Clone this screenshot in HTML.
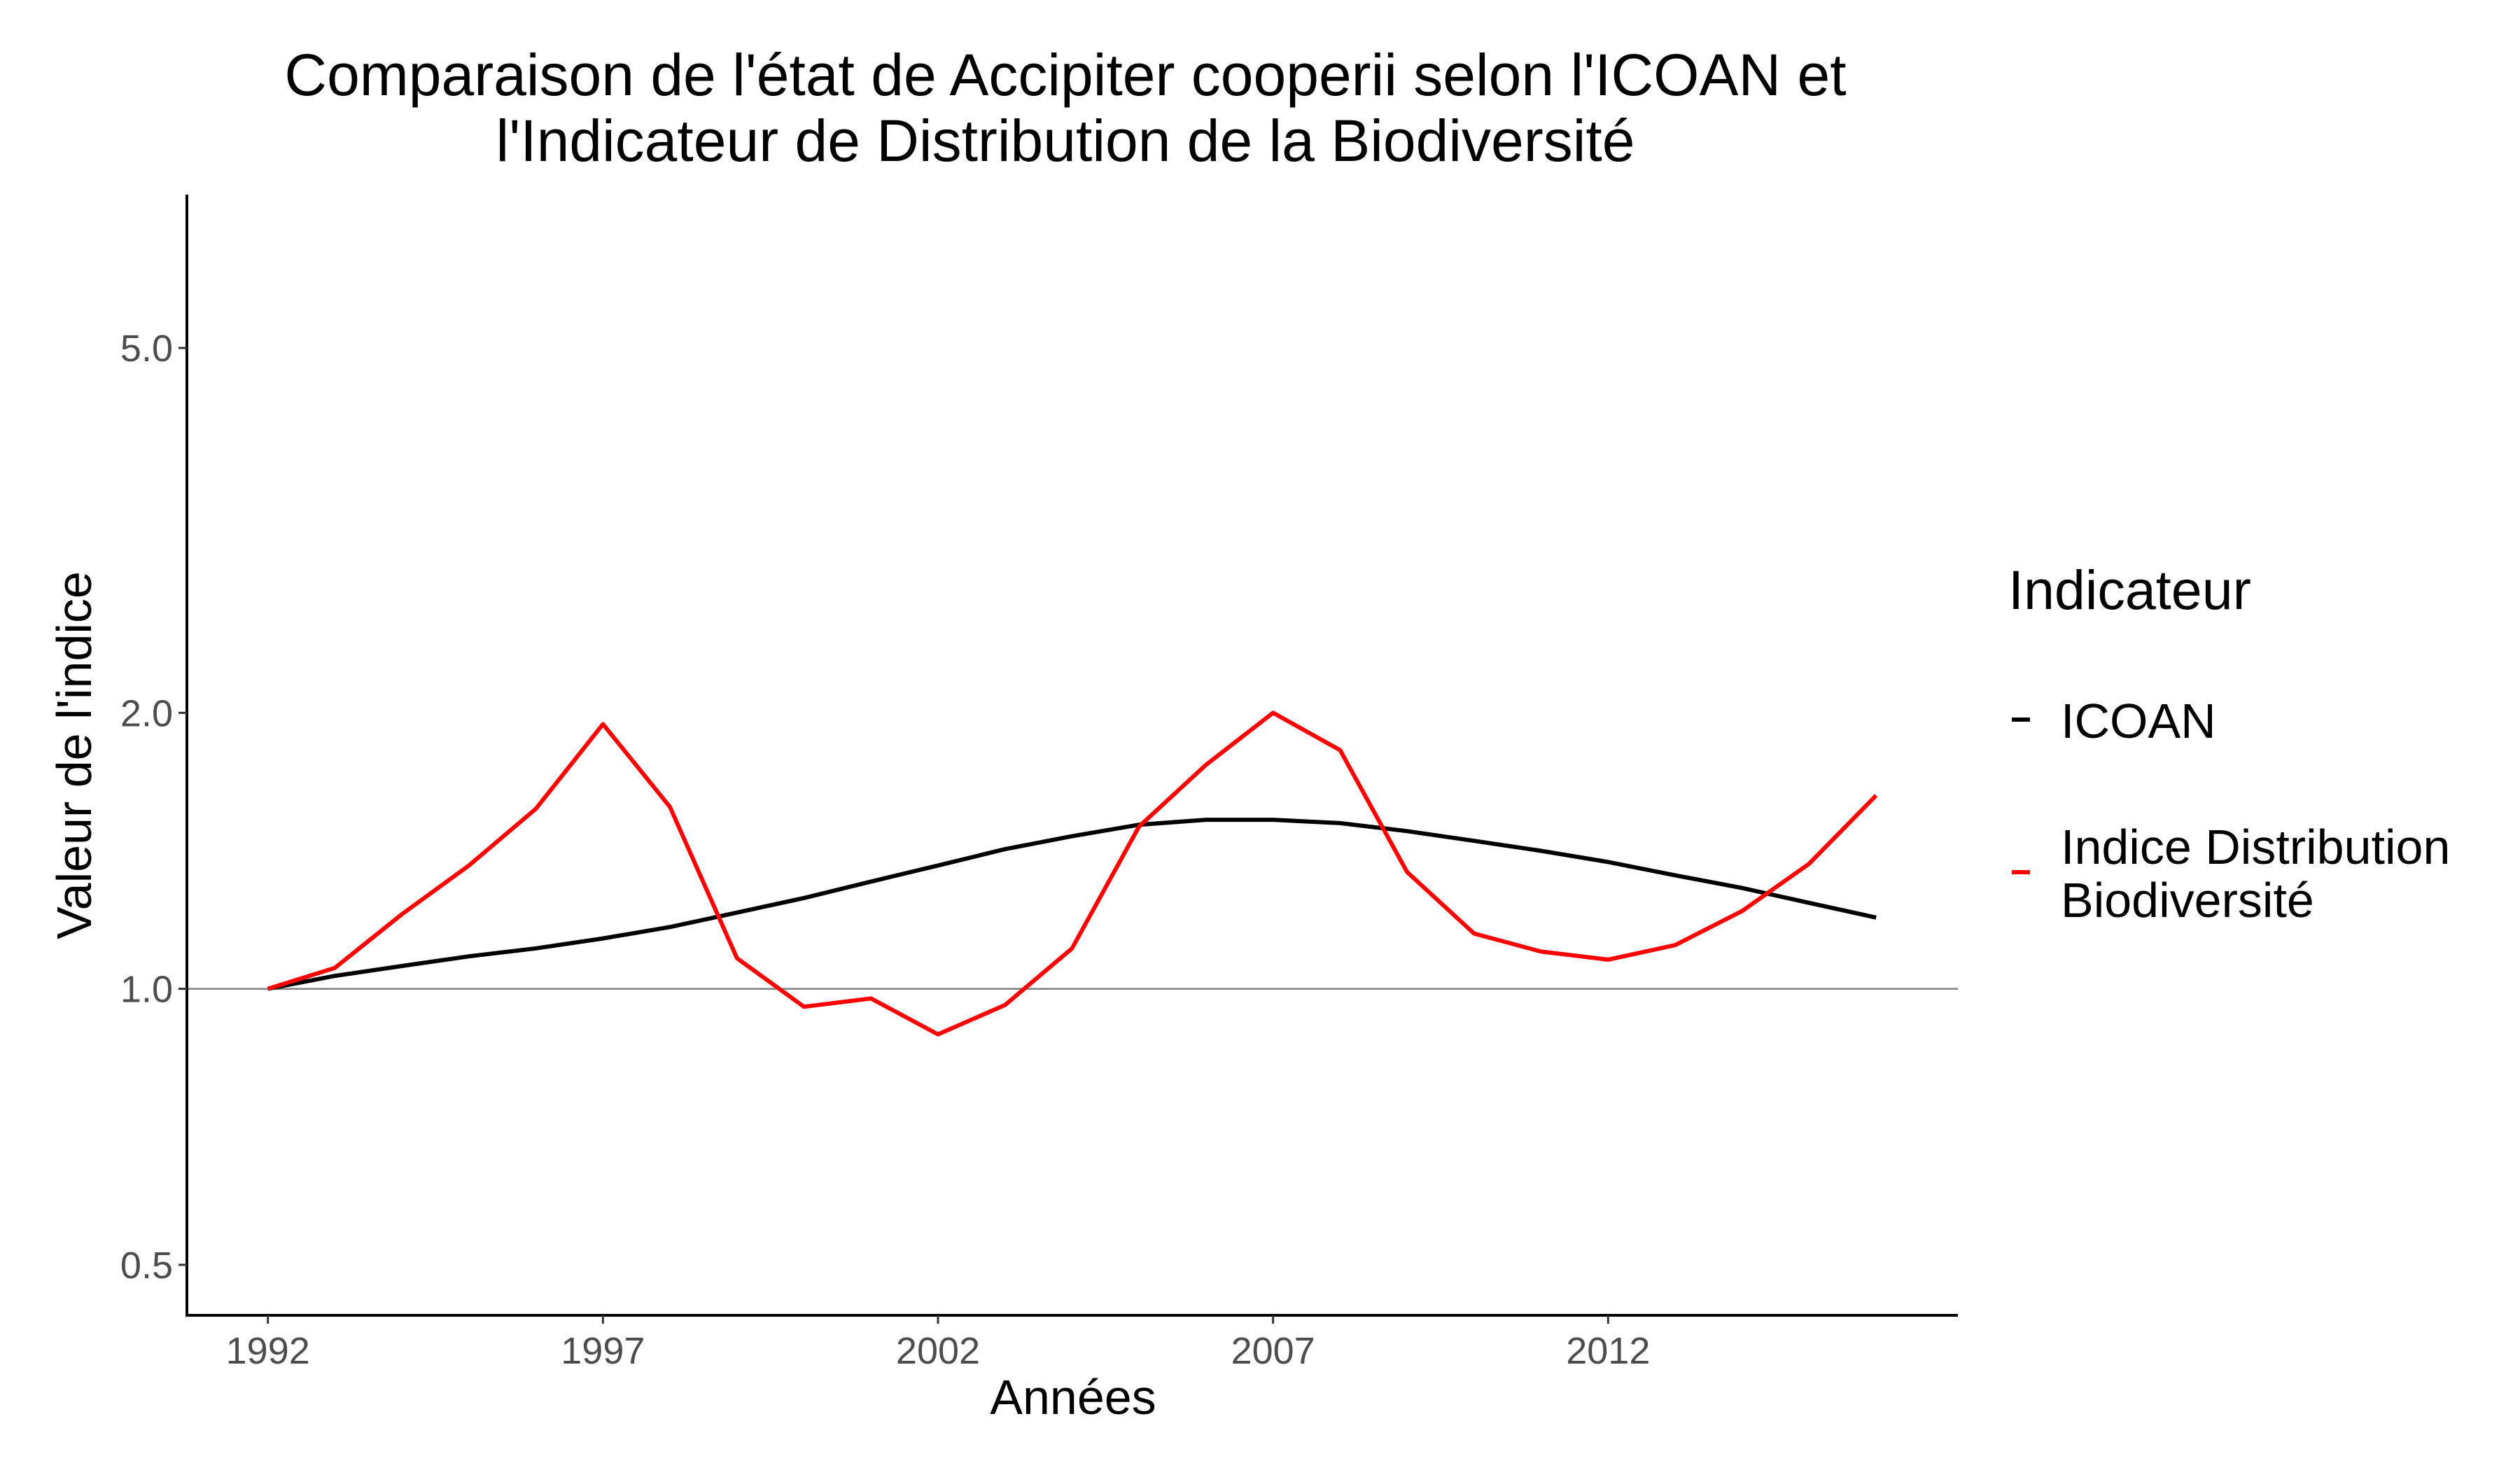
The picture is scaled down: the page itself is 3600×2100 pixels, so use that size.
<!DOCTYPE html>
<html><head><meta charset="utf-8"><style>html,body{margin:0;padding:0;background:#fff}svg{display:block}text{font-family:"Liberation Sans",sans-serif}</style></head>
<body>
<svg id="chart" width="3600" height="2100" viewBox="0 0 3600 2100" xmlns="http://www.w3.org/2000/svg">
<text x="1522" y="136" font-size="84" text-anchor="middle" fill="#000">Comparaison de l'état de Accipiter cooperii selon l'ICOAN et</text>
<text x="1522" y="230" font-size="84" text-anchor="middle" fill="#000">l'Indicateur de Distribution de la Biodiversité</text>
<g id="plot"></g>
<text x="1533" y="2020" font-size="70" text-anchor="middle" fill="#000">Années</text>
<text transform="translate(130,1079) rotate(-90)" font-size="70" text-anchor="middle" fill="#000">Valeur de l'indice</text>
<g>
<text x="2869" y="870" font-size="79" fill="#000">Indicateur</text>
<line x1="2874" x2="2900" y1="1028" y2="1028" stroke="#000" stroke-width="6"/>
<text x="2944" y="1054" font-size="70" fill="#000">ICOAN</text>
<line x1="2874" x2="2900" y1="1246" y2="1246" stroke="#f00" stroke-width="6"/>
<text x="2944" y="1234" font-size="70" fill="#000">Indice Distribution</text>
<text x="2944" y="1310" font-size="70" fill="#000">Biodiversité</text>
</g>
</svg>
<script>
const years = [1992,1993,1994,1995,1996,1997,1998,1999,2000,2001,2002,2003,2004,2005,2006,2007,2008,2009,2010,2011,2012,2013,2014,2015,2016];
const icoan = [1.0,1.033,1.059,1.085,1.107,1.135,1.168,1.211,1.256,1.309,1.363,1.420,1.467,1.510,1.529,1.529,1.516,1.486,1.450,1.414,1.375,1.330,1.288,1.241,1.196];
const idb = [1.0,1.054,1.206,1.363,1.572,1.944,1.579,1.080,0.956,0.976,0.892,0.960,1.107,1.503,1.755,2.0,1.821,1.341,1.149,1.098,1.076,1.116,1.216,1.369,1.625];
const xTicks = [1992,1997,2002,2007,2012];
const yTicks = [0.5,1.0,2.0,5.0];
const yTickLabels = ["0.5","1.0","2.0","5.0"];

const NS="http://www.w3.org/2000/svg";
const L=267,R=2797,T=278,B=1879;
function xs(y){return 382.7+(y-1992)*95.73;}
function ys(v){return 1412.6-Math.log2(v)*394.3;}
const g=document.getElementById('plot');
function mk(t,a){const e=document.createElementNS(NS,t);for(const k in a)e.setAttribute(k,a[k]);g.appendChild(e);return e;}
let e;
e=mk('line',{x1:L,x2:R,y1:ys(1),y2:ys(1),stroke:'#7f7f7f','stroke-width':2.5});


e=mk('line',{x1:L,x2:L,y1:T,y2:B+2,stroke:'#000','stroke-width':4});


e=mk('line',{x1:L-2,x2:R,y1:B,y2:B,stroke:'#000','stroke-width':4});


yTicks.forEach((v,i)=>{
 let t=mk('line',{x1:L-12,x2:L,y1:ys(v),y2:ys(v),stroke:'#333','stroke-width':3});
 
 
 let tx=mk('text',{x:L-20,y:ys(v)+19,'font-size':54,'text-anchor':'end',fill:'#4d4d4d'});
 tx.textContent=yTickLabels[i];
 
 
});
xTicks.forEach(v=>{
 let t=mk('line',{x1:xs(v),x2:xs(v),y1:B,y2:B+12,stroke:'#333','stroke-width':3});
 
 
 let tx=mk('text',{x:xs(v),y:1948,'font-size':54,'text-anchor':'middle',fill:'#4d4d4d'});
 tx.textContent=String(v);
 
 
});
function pts(arr){return arr.map((v,i)=>xs(years[i]).toFixed(1)+','+ys(v).toFixed(1)).join(' ');}
e=mk('polyline',{points:pts(icoan),fill:'none',stroke:'#000','stroke-width':6,'stroke-linejoin':'round'});


e=mk('polyline',{points:pts(idb),fill:'none',stroke:'#f00','stroke-width':6,'stroke-linejoin':'round'});


</script>
</body></html>
